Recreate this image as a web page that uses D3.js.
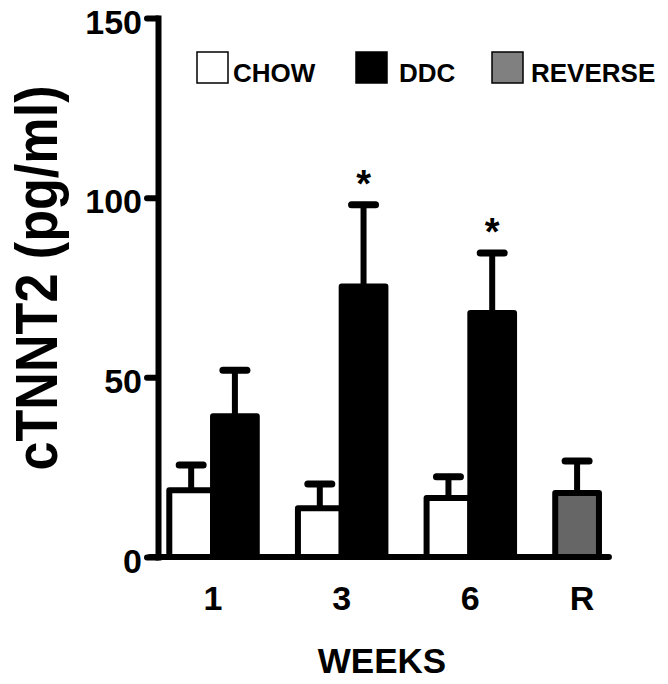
<!DOCTYPE html>
<html>
<head>
<meta charset="utf-8">
<script src="https://cdn.jsdelivr.net/npm/d3@7"></script>
<style>
  body { margin: 0; background: #fff; }
  text { font-family: "Liberation Sans", Arial, sans-serif; }
</style>
</head>
<body>
<script>
'use strict';

// values
const weeks = ["1", "3", "6", "R"];
const groups = ["CHOW", "DDC"];
const chowMean = [18.6, 13.6, 16.4];
const chowSem = [7.0, 6.7, 5.9];
const ddcMean = [39.2, 75.3, 67.9];
const ddcSem = [12.8, 22.7, 16.7];
const reverseMean = [17.8];
const reverseSem = [8.9];
const starred = [false, true, true];
const yTicks = [0, 50, 100, 150];
const legendLabels = ["CHOW", "DDC", "REVERSE"];
const legendColors = ["#ffffff", "#000000", "#808080"];

(function() {

  let svgContainer = d3.select('body')
    .append('svg')
    .attr('width', 668)
    .attr('height', 684);

  // scales
  let yScale = d3.scaleLinear()
    .domain([0, 150])
    .range([557, 18]);

  let xScale = d3.scaleBand()
    .domain(weeks)
    .range([150, 662])
    .paddingInner(0.32)
    .paddingOuter(0.15);

  let subScale = d3.scaleBand()
    .domain(groups)
    .range([0, xScale.bandwidth()]);

  // build rows for bars
  let rows = [];
  weeks.slice(0, 3).forEach((w, i) => {
    rows.push({ week: w, group: "CHOW", mean: chowMean[i], sem: chowSem[i], fill: "#ffffff" });
    rows.push({ week: w, group: "DDC", mean: ddcMean[i], sem: ddcSem[i], fill: "#000000" });
  });
  rows.push({ week: "R", group: "CHOW", mean: reverseMean[0], sem: reverseSem[0], fill: "#666666" });

  let barX = d => xScale(d.week) + subScale(d.group);
  let barW = subScale.bandwidth();

  // error bars (upper only), drawn under the bars
  let err = svgContainer.append('g')
    .attr('stroke', '#000')
    .attr('stroke-linecap', 'round');

  err.selectAll('.stem')
    .data(rows).enter()
    .append('line')
      .attr('x1', d => barX(d) + barW / 2)
      .attr('x2', d => barX(d) + barW / 2)
      .attr('y1', d => yScale(d.mean))
      .attr('y2', d => yScale(d.mean + d.sem))
      .attr('stroke-width', 6);

  err.selectAll('.cap')
    .data(rows).enter()
    .append('line')
      .attr('x1', d => barX(d) + barW / 2 - 12)
      .attr('x2', d => barX(d) + barW / 2 + 12)
      .attr('y1', d => yScale(d.mean + d.sem))
      .attr('y2', d => yScale(d.mean + d.sem))
      .attr('stroke-width', 7);

  // bars
  svgContainer.append('g').selectAll('rect')
    .data(rows).enter()
    .append('rect')
      .attr('x', barX)
      .attr('y', d => yScale(d.mean))
      .attr('width', barW)
      .attr('height', d => yScale(0) - yScale(d.mean))
      .attr('fill', d => d.fill)
      .attr('stroke', '#000')
      .attr('stroke-width', 6)
      .attr('stroke-linejoin', 'round');

  // significance stars above DDC bars
  svgContainer.append('g').selectAll('text')
    .data(rows.filter(d => d.group === "DDC" && starred[weeks.indexOf(d.week)])).enter()
    .append('text')
      .attr('x', d => barX(d) + barW / 2)
      .attr('y', d => yScale(d.mean + d.sem) - 8)
      .attr('text-anchor', 'middle')
      .style('font-size', '38px')
      .style('font-weight', 'bold')
      .text('*');

  // y axis
  let yAxis = d3.axisLeft(yScale)
    .tickValues(yTicks)
    .tickSize(11)
    .tickSizeOuter(0)
    .tickPadding(5);

  let yg = svgContainer.append('g')
    .attr('transform', 'translate(158, 0)')
    .call(yAxis);
  yg.select('.domain').attr('stroke-width', 6).attr('stroke-linecap', 'square');
  yg.selectAll('.tick line').attr('stroke-width', 6).attr('stroke-linecap', 'round');
  yg.selectAll('.tick text')
    .attr('dy', '0.45em')
    .style('font-family', '"Liberation Sans", Arial, sans-serif')
    .style('font-size', '34px')
    .style('font-weight', 'bold')
    .attr('fill', '#000');

  // x baseline
  let lastBar = rows[rows.length - 1];
  svgContainer.append('line')
    .attr('x1', 150)
    .attr('x2', barX(lastBar) + barW + 10)
    .attr('y1', yScale(0))
    .attr('y2', yScale(0))
    .attr('stroke', '#000')
    .attr('stroke-width', 6)
    .attr('stroke-linecap', 'round');

  // x tick labels
  svgContainer.append('g').selectAll('text')
    .data(weeks).enter()
    .append('text')
      .attr('x', w => w === "R"
        ? barX(lastBar) + barW / 2 + 5
        : xScale(w) + xScale.bandwidth() / 2)
      .attr('y', 610)
      .attr('text-anchor', 'middle')
      .style('font-size', '34px')
      .style('font-weight', 'bold')
      .text(w => w);

  // axis titles
  svgContainer.append('text')
    .attr('x', 382)
    .attr('y', 673)
    .attr('text-anchor', 'middle')
    .style('font-size', '35px')
    .style('font-weight', 'bold')
    .text('WEEKS');

  svgContainer.append('text')
    .attr('transform', 'translate(57, 278)rotate(-90)')
    .attr('text-anchor', 'middle')
    .attr('textLength', 385)
    .attr('lengthAdjust', 'spacingAndGlyphs')
    .style('font-size', '60px')
    .style('font-weight', 'bold')
    .text('cTNNT2 (pg/ml)');

  // legend
  let legendX = [197, 356, 492];
  let legendGap = [5, 12, 8];
  let legend = svgContainer.append('g');
  legendLabels.forEach((label, i) => {
    legend.append('rect')
      .attr('x', legendX[i])
      .attr('y', 52)
      .attr('width', 31)
      .attr('height', 31)
      .attr('fill', legendColors[i])
      .attr('stroke', '#000')
      .attr('stroke-width', 1.5);
    legend.append('text')
      .attr('x', legendX[i] + 31 + legendGap[i])
      .attr('y', 82)
      .style('font-size', '26px')
      .style('font-weight', 'bold')
      .text(label);
  });

})();
</script>
</body>
</html>
